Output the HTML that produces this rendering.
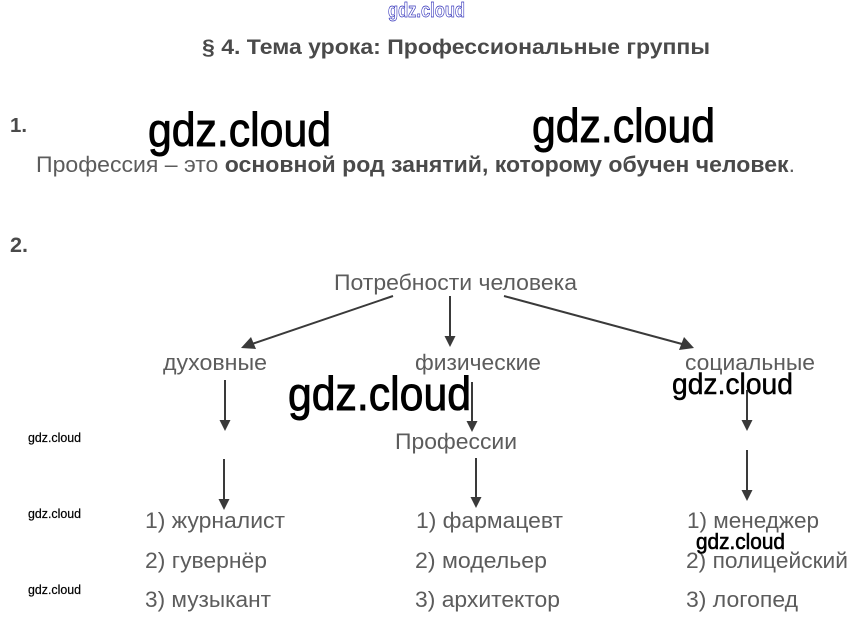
<!DOCTYPE html>
<html lang="ru">
<head>
<meta charset="utf-8">
<title>§ 4. Тема урока: Профессиональные группы</title>
<style>
html,body{margin:0;padding:0;background:#fff;width:853px;height:627px;overflow:hidden}
svg{display:block}
text{font-family:"Liberation Sans",sans-serif}
.g{fill:#5c5c5c;font-size:22.5px}
.b{fill:#4a4a4a;font-weight:700}
.w{fill:#000}
.a{stroke:#3a3a3a;stroke-width:2;fill:none}
.h{fill:#3a3a3a}
</style>
</head>
<body>
<svg width="853" height="627" viewBox="0 0 853 627" xmlns="http://www.w3.org/2000/svg">
<rect width="853" height="627" fill="#fff"/>

<text x="388" y="17" font-size="20" font-weight="700" textLength="77" lengthAdjust="spacingAndGlyphs" fill="#fff" stroke="#3333bb" stroke-width="0.7">gdz.cloud</text>

<text x="202" y="54" class="b" font-size="21.5" textLength="508" lengthAdjust="spacingAndGlyphs">§ 4. Тема урока: Профессиональные группы</text>
<text x="10" y="132" class="b" font-size="20" textLength="17" lengthAdjust="spacingAndGlyphs">1.</text>
<text x="36" y="172" class="g" textLength="759" lengthAdjust="spacingAndGlyphs">Профессия – это <tspan class="b">основной род занятий, которому обучен человек</tspan>.</text>
<text x="10" y="252" class="b" font-size="21" textLength="18" lengthAdjust="spacingAndGlyphs">2.</text>

<text x="334" y="290" class="g" textLength="243" lengthAdjust="spacingAndGlyphs">Потребности человека</text>
<text x="163" y="370" class="g" textLength="104" lengthAdjust="spacingAndGlyphs">духовные</text>
<text x="415" y="370" class="g" textLength="126" lengthAdjust="spacingAndGlyphs">физические</text>
<text x="685" y="370" class="g" textLength="130" lengthAdjust="spacingAndGlyphs">социальные</text>
<text x="395" y="449" class="g" textLength="122" lengthAdjust="spacingAndGlyphs">Профессии</text>

<text x="145" y="528" class="g" textLength="140" lengthAdjust="spacingAndGlyphs">1) журналист</text>
<text x="145" y="568" class="g" textLength="122" lengthAdjust="spacingAndGlyphs">2) гувернёр</text>
<text x="145" y="607" class="g" textLength="126" lengthAdjust="spacingAndGlyphs">3) музыкант</text>

<text x="416" y="528" class="g" textLength="147" lengthAdjust="spacingAndGlyphs">1) фармацевт</text>
<text x="415" y="568" class="g" textLength="132" lengthAdjust="spacingAndGlyphs">2) модельер</text>
<text x="415" y="607" class="g" textLength="145" lengthAdjust="spacingAndGlyphs">3) архитектор</text>

<text x="687" y="528" class="g" textLength="132" lengthAdjust="spacingAndGlyphs">1) менеджер</text>
<text x="686" y="568" class="g" textLength="162" lengthAdjust="spacingAndGlyphs">2) полицейский</text>
<text x="686" y="607" class="g" textLength="112" lengthAdjust="spacingAndGlyphs">3) логопед</text>

<line class="a" x1="393" y1="296" x2="252" y2="344"/>
<polygon class="h" points="241,348 251,337 256,349"/>
<line class="a" x1="450" y1="296" x2="450" y2="338"/>
<polygon class="h" points="450,347 444.5,336 455.5,336"/>
<line class="a" x1="504" y1="296" x2="682" y2="344"/>
<polygon class="h" points="694,348 679,350 684,337"/>
<line class="a" x1="225" y1="380" x2="225" y2="422"/>
<polygon class="h" points="225,431 219.5,420 230.5,420"/>
<line class="a" x1="472" y1="382" x2="472" y2="423"/>
<polygon class="h" points="472,432 466.5,421 477.5,421"/>
<line class="a" x1="747" y1="390" x2="747" y2="422"/>
<polygon class="h" points="747,431 741.5,420 752.5,420"/>
<line class="a" x1="224" y1="459" x2="224" y2="501"/>
<polygon class="h" points="224,510 218.5,499 229.5,499"/>
<line class="a" x1="476" y1="458" x2="476" y2="499"/>
<polygon class="h" points="476,508 470.5,497 481.5,497"/>
<line class="a" x1="747" y1="450" x2="747" y2="492"/>
<polygon class="h" points="747,501 741.5,490 752.5,490"/>

<text x="148" y="146" class="w" font-size="47" stroke="#000" stroke-width="0.9" textLength="183" lengthAdjust="spacingAndGlyphs">gdz.cloud</text>
<text x="532" y="142" class="w" font-size="47" stroke="#000" stroke-width="0.9" textLength="183" lengthAdjust="spacingAndGlyphs">gdz.cloud</text>
<text x="288" y="410" class="w" font-size="47" stroke="#000" stroke-width="0.9" textLength="183" lengthAdjust="spacingAndGlyphs">gdz.cloud</text>
<text x="672" y="394" class="w" font-size="30" stroke="#000" stroke-width="0.5" textLength="121" lengthAdjust="spacingAndGlyphs">gdz.cloud</text>
<text x="696" y="549" class="w" font-size="22" stroke="#000" stroke-width="0.6" textLength="89" lengthAdjust="spacingAndGlyphs">gdz.cloud</text>
<text x="28" y="442" class="w" font-size="13" stroke="#000" stroke-width="0.2" textLength="53" lengthAdjust="spacingAndGlyphs">gdz.cloud</text>
<text x="28" y="518" class="w" font-size="13" stroke="#000" stroke-width="0.2" textLength="53" lengthAdjust="spacingAndGlyphs">gdz.cloud</text>
<text x="28" y="594" class="w" font-size="13" stroke="#000" stroke-width="0.2" textLength="53" lengthAdjust="spacingAndGlyphs">gdz.cloud</text>
</svg>
</body>
</html>
